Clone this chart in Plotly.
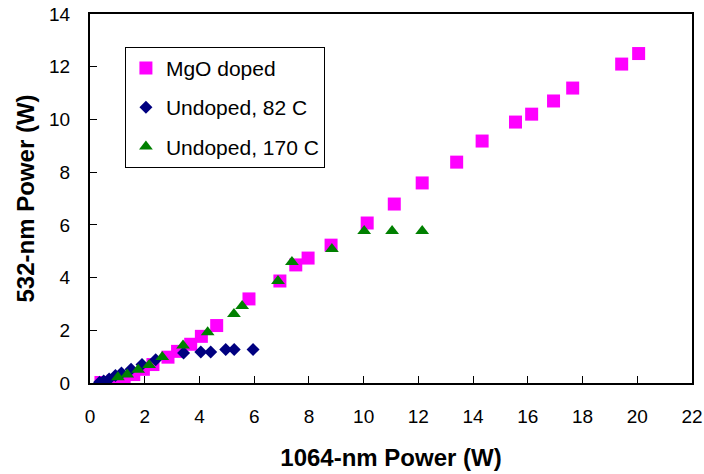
import plotly.graph_objects as go

# MgO doped (magenta squares)
mgo_x = [0.4, 0.85, 1.25, 1.6, 1.95, 2.3, 2.85, 3.2, 3.68, 4.07, 4.63, 5.81, 6.94, 7.52,
         7.97, 8.81, 10.13, 11.12, 12.14, 13.4, 14.33, 15.55, 16.14, 16.94, 17.64, 19.43, 20.05]
mgo_y = [0.02, 0.08, 0.2, 0.32, 0.52, 0.7, 0.98, 1.2, 1.47, 1.77, 2.18, 3.19, 3.87, 4.48,
         4.74, 5.23, 6.07, 6.79, 7.59, 8.38, 9.18, 9.9, 10.2, 10.7, 11.19, 12.1, 12.5]

# Undoped, 82 C (navy diamonds)
u82_x = [0.35, 0.5, 0.7, 0.93, 1.15, 1.5, 1.9, 2.4, 3.42, 4.05, 4.41, 4.96, 5.27, 5.96]
u82_y = [0.03, 0.08, 0.15, 0.28, 0.38, 0.52, 0.7, 0.88, 1.14, 1.18, 1.18, 1.27, 1.27, 1.27]

# Undoped, 170 C (green triangles)
u170_x = [1.02, 1.36, 1.76, 2.16, 2.64, 3.4, 4.3, 5.26, 5.56, 6.87, 7.38, 8.84, 10.02, 11.04, 12.14]
u170_y = [0.22, 0.32, 0.5, 0.68, 0.99, 1.42, 1.93, 2.62, 2.92, 3.87, 4.59, 5.08, 5.77, 5.77, 5.77]

x_ticks = list(range(0, 23, 2))
y_ticks = list(range(0, 15, 2))

FONT = "Liberation Sans, Arial, sans-serif"

fig = go.Figure()
fig.add_trace(go.Scatter(x=mgo_x, y=mgo_y, mode="markers", name="MgO doped",
                         legendgroup="a",
                         marker=dict(symbol="square", size=13, color="#FF00FF")))
fig.add_trace(go.Scatter(x=u82_x, y=u82_y, mode="markers", name="Undoped, 82 C",
                         legendgroup="b",
                         marker=dict(symbol="diamond", size=10, color="#000080")))
fig.add_trace(go.Scatter(x=u170_x, y=u170_y, mode="markers", name="Undoped, 170 C",
                         legendgroup="c",
                         marker=dict(symbol="triangle-up", size=12, color="#008000")))

fig.update_layout(
    width=704, height=474,
    margin=dict(l=90, r=12, t=14, b=91, autoexpand=False),
    paper_bgcolor="white", plot_bgcolor="white",
    font=dict(family=FONT, color="black"),
    showlegend=True,
    legend=dict(x=0.058, y=0.911, xanchor="left", yanchor="top",
                bgcolor="white", bordercolor="black", borderwidth=1,
                font=dict(size=21, family=FONT, color="black"),
                tracegroupgap=9, traceorder="grouped"),
    xaxis=dict(range=[0, 22], tickvals=x_ticks, ticks="inside", ticklen=7,
               tickwidth=1, tickcolor="black", automargin=False,
               showline=True, linecolor="black", linewidth=2, mirror=True,
               showgrid=False, zeroline=False,
               tickfont=dict(size=19, family=FONT), ticklabelstandoff=15,
               title=dict(text="<b>1064-nm Power (W)</b>", font=dict(size=24, family=FONT),
                          standoff=23)),
    yaxis=dict(range=[0, 14], tickvals=y_ticks, ticks="inside", ticklen=7,
               tickwidth=1, tickcolor="black", automargin=False,
               showline=True, linecolor="black", linewidth=2, mirror=True,
               showgrid=False, zeroline=False,
               tickfont=dict(size=19, family=FONT), ticklabelstandoff=14,
               title=dict(text="<b>532-nm Power (W)</b>", font=dict(size=24, family=FONT),
                          standoff=8)),
)

# remove the default page margin so the figure sits at the window's top-left corner
fig.write_html("out.html",
               config={"displayModeBar": False},
               post_script="document.body.style.margin='0';document.body.style.overflow='hidden';")
